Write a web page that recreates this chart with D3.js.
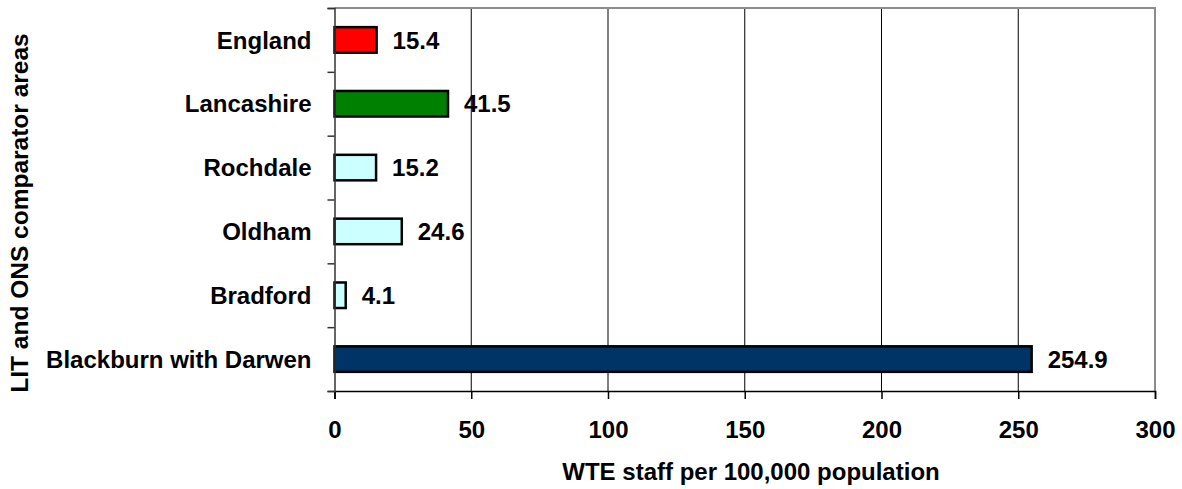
<!DOCTYPE html>
<html>
<head>
<meta charset="utf-8">
<script src="https://cdn.jsdelivr.net/npm/d3@7"></script>
<style>
  body { margin: 0; background: #fff; }
  text { font-family: "Liberation Sans", Arial, sans-serif; font-weight: bold; fill: #000; }
</style>
</head>
<body>
<div id="container"></div>
<script>
(function(){
  "use strict";
  var areas = ["England", "Lancashire", "Rochdale", "Oldham", "Bradford", "Blackburn with Darwen"];
  var staff = [15.4, 41.5, 15.2, 24.6, 4.1, 254.9];
  var barColours = ["#ff0000", "#008000", "#ccffff", "#ccffff", "#ccffff", "#003366"];
  var xTicks = [0, 50, 100, 150, 200, 250, 300];

  var margin = {top: 8, right: 27, bottom: 98, left: 334.5};
  var width = 1182 - margin.left - margin.right;
  var height = 489 - margin.top - margin.bottom;

  var svg = d3.select("#container").append("svg")
      .attr("width", 1182)
      .attr("height", 489);
  var chart = svg.append("g")
      .attr("transform", "translate(" + margin.left + "," + margin.top + ")");

  var xScale = d3.scaleLinear().domain([0, 300]).range([0, width]);
  var yScale = d3.scaleBand().domain(areas).range([0, height])
      .paddingInner(0.6).paddingOuter(0.3);

  // gridlines
  chart.append("g").selectAll("line")
      .data(xTicks.slice(1, -1))
      .enter().append("line")
      .attr("x1", function(d) { return xScale(d); })
      .attr("x2", function(d) { return xScale(d); })
      .attr("y1", 0)
      .attr("y2", height)
      .attr("stroke", "#000")
      .attr("stroke-width", 1);

  // grey frame top and right
  chart.append("path")
      .attr("d", "M0,0H" + width + "V" + height)
      .attr("fill", "none")
      .attr("stroke", "#8c8c8c")
      .attr("stroke-width", 2);

  var rows = areas.map(function(a, i) {
    return {area: a, value: staff[i], colour: barColours[i]};
  });

  chart.append("g").selectAll("rect")
      .data(rows)
      .enter().append("rect")
      .attr("x", xScale(0))
      .attr("y", function(d) { return yScale(d.area); })
      .attr("width", function(d) { return xScale(d.value) - xScale(0); })
      .attr("height", yScale.bandwidth())
      .attr("fill", function(d) { return d.colour; })
      .attr("stroke", "#000")
      .attr("stroke-width", 2.5);

  chart.append("g").selectAll("text")
      .data(rows)
      .enter().append("text")
      .attr("x", function(d) { return xScale(d.value) + 16; })
      .attr("y", function(d) { return yScale(d.area) + yScale.bandwidth() / 2; })
      .attr("dy", "0.36em")
      .style("font-size", "24px")
      .text(function(d) { return d.value.toFixed(1); });

  var xAxis = d3.axisBottom(xScale).tickValues(xTicks).tickSize(8).tickPadding(22);
  var xAxisGroup = chart.append("g")
      .attr("transform", "translate(0," + height + ")")
      .call(xAxis);
  xAxisGroup.selectAll("text").style("font-size", "24px");
  xAxisGroup.selectAll("line, path").attr("stroke", "#000").attr("stroke-width", 1.5);

  var yAxis = d3.axisLeft(d3.scaleLinear().domain([0, areas.length]).range([0, height]))
      .ticks(areas.length).tickSize(7).tickFormat("");
  var yAxisGroup = chart.append("g").call(yAxis);
  yAxisGroup.selectAll("line, path").attr("stroke", "#333").attr("stroke-width", 1.5);

  chart.append("g").selectAll("text")
      .data(areas)
      .enter().append("text")
      .attr("x", -23)
      .attr("y", function(d) { return yScale(d) + yScale.bandwidth() / 2; })
      .attr("dy", "0.36em")
      .attr("text-anchor", "end")
      .style("font-size", "24px")
      .text(function(d) { return d; });

  svg.append("text")
      .attr("x", 751)
      .attr("y", 480)
      .attr("text-anchor", "middle")
      .style("font-size", "24px")
      .text("WTE staff per 100,000 population");

  svg.append("text")
      .attr("transform", "translate(28,213) rotate(-90)")
      .attr("text-anchor", "middle")
      .style("font-size", "24.5px")
      .text("LIT and ONS comparator areas");
})();
</script>
</body>
</html>
